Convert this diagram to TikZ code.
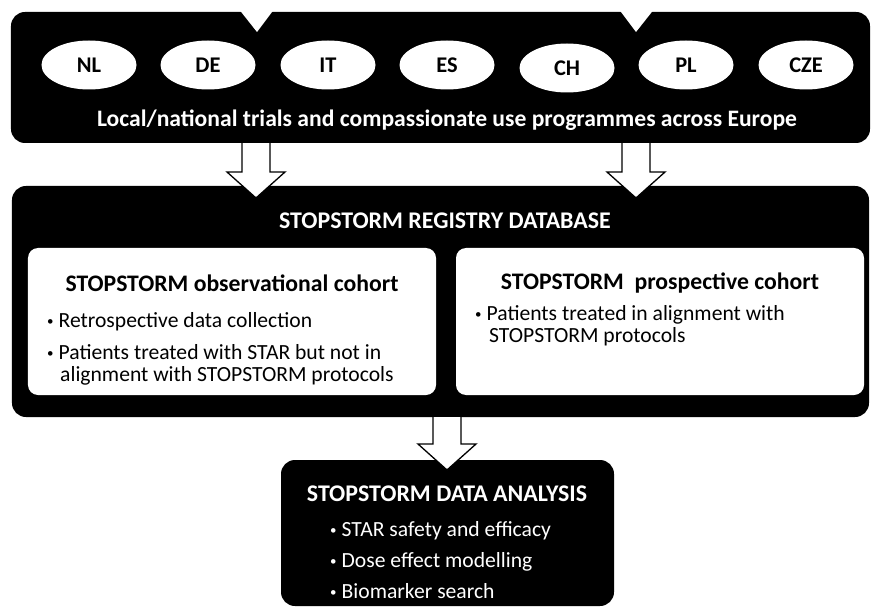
\documentclass[tikz,border=0pt]{standalone}
\usepackage{fontspec}
\setmainfont{Carlito}
\usetikzlibrary{calc,positioning,shapes.geometric}

% block arrow from a point on one box to its tip on the next
\newcommand\fatarrow[2]{%
  \draw[fatarrow] ($(#1)+(-14,0)$) -- ($(#2)+(-14,-26)$) -- ($(#2)+(-29,-26)$)
    -- (#2) -- ($(#2)+(29,-26)$) -- ($(#2)+(14,-26)$) -- ($(#1)+(14,0)$);}
\newcommand\smallbul{\raisebox{1.5bp}{\fontsize{13}{13}\selectfont\textbullet}\hspace{5bp}}

\tikzset{
  blackbox/.style={fill=black,rounded corners=14bp,inner sep=0pt},
  whitebox/.style={fill=white,rounded corners=10bp,inner sep=0pt},
  country/.style={ellipse,fill=white,minimum width=95bp,minimum height=49bp,
    inner sep=0pt,font=\fontsize{22.5}{22.5}\selectfont\bfseries},
  fatarrow/.style={fill=white,draw=black,line width=1.3bp,line join=miter},
  headtext/.style={white,inner sep=0pt,font=\fontsize{24}{24}\selectfont\bfseries},
  cohorttitle/.style={inner sep=0pt,font=\fontsize{23.8}{23.8}\selectfont\bfseries},
  bulletline/.style={anchor=base west,inner sep=0pt,font=\fontsize{21.7}{21.7}\selectfont},
}

\begin{document}
\begin{tikzpicture}[x=1bp,y=-1bp]
\useasboundingbox (0,0) rectangle (872,610);

% local and national trials
\node[blackbox,minimum width=859bp,minimum height=131bp] (trials) at (440.5,77.5) {};
\fill[white] (238,8) -- (275,8) -- (257,32) -- cycle;
\fill[white] (618,8) -- (655,8) -- (636,32) -- cycle;
\foreach \name/\cx/\cy in {NL/89/65,DE/208/65,IT/328/65,ES/447/65,CH/567/68,PL/686/65,CZE/806/65}
  \node[country] (c\name) at (\cx,\cy) {\name};
\node[headtext,font=\fontsize{23.7}{23.7}\selectfont\bfseries] (trialstext) at (447,120) {Local/national trials and compassionate use programmes across Europe};

% registry
\node[blackbox,minimum width=857bp,minimum height=231bp] (registry) at (440.5,301.5) {};
\node[headtext] (registrytitle) at (445,221) {STOPSTORM REGISTRY DATABASE};
\node[whitebox,minimum width=408bp,minimum height=147bp] (observ) at (232,321.5) {};
\node[whitebox,minimum width=408bp,minimum height=147bp] (prosp) at (660,321.5) {};
\node[cohorttitle] (observtitle) at (232,283) {STOPSTORM observational cohort};
\node[cohorttitle] (prosptitle) at (660,283) {STOPSTORM\ \ prospective cohort};
\node[bulletline] (ob1) at (47,327) {\smallbul Retrospective data collection};
\node[bulletline] (ob2) at (47,359) {\smallbul Patients treated with STAR but not in};
\node[bulletline] (ob3) at (60,381) {alignment with STOPSTORM protocols};
\node[bulletline] (pr1) at (475,320) {\smallbul Patients treated in alignment with};
\node[bulletline] (pr2) at (489,342) {STOPSTORM protocols};

% analysis
\node[blackbox,minimum width=333bp,minimum height=146bp] (analysis) at (447.5,533) {};
\node[headtext] (analysistitle) at (447,494) {STOPSTORM DATA ANALYSIS};
\node[bulletline,white] (an1) at (330,536) {\smallbul STAR safety and efficacy};
\node[bulletline,white] (an2) at (330,567) {\smallbul Dose effect modelling};
\node[bulletline,white] (an3) at (330,598) {\smallbul Biomarker search};

% arrows between the boxes
\coordinate (a1t) at (256,198);
\coordinate (a2t) at (636,198);
\coordinate (a3t) at (447,470);
\coordinate (a1s) at (trials.south -| a1t);
\coordinate (a2s) at (trials.south -| a2t);
\coordinate (a3s) at (registry.south -| a3t);
\fatarrow{a1s}{a1t}
\fatarrow{a2s}{a2t}
\fatarrow{a3s}{a3t}
\end{tikzpicture}
\end{document}
